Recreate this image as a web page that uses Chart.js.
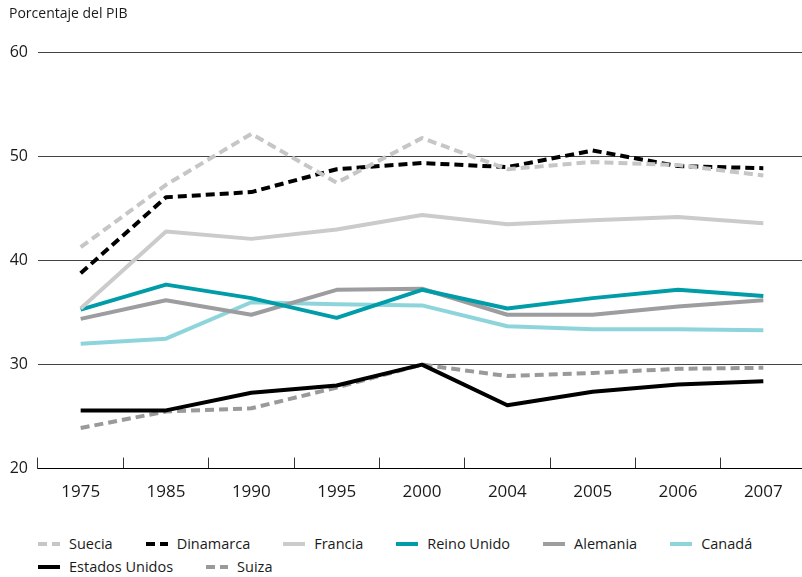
<!DOCTYPE html>
<html lang="es">
<head>
<meta charset="utf-8">
<title>Porcentaje del PIB</title>
<script src="https://cdn.jsdelivr.net/npm/chart.js"></script>
<style>
    body {
        margin: 0;
        background: #fff;
        overflow: hidden;
        font-family: "Open Sans", sans-serif;
        color: #1a1a1a;
    }
    .wrap {
        position: relative;
        width: 802px;
        height: 577px;
        overflow: hidden;
    }
    #chart {
        position: absolute;
        left: 0;
        top: 0;
    }
    /* legend built from the datasets below the canvas */
    .legend {
        position: absolute;
        left: 38px;
        top: 532px;
        width: 760px;
        display: flex;
        flex-wrap: wrap;
        column-gap: 33px;
        font-size: 14.5px;
        line-height: 23px;
    }
    .legend .item {
        display: flex;
        align-items: center;
        white-space: nowrap;
    }
    .legend svg {
        margin-right: 9px;
    }
</style>
</head>
<body>
<div class="wrap">
    <canvas id="chart" width="810" height="530"></canvas>
    <div class="legend" id="legend"></div>
</div>

<script>
// data
const years = ['1975', '1985', '1990', '1995', '2000', '2004', '2005', '2006', '2007'];
const suecia        = [41.3, 47.3, 52.2, 47.5, 51.8, 48.8, 49.5, 49.2, 48.2];
const dinamarca     = [38.8, 46.1, 46.6, 48.8, 49.4, 49.0, 50.6, 49.1, 48.9];
const francia       = [35.4, 42.8, 42.1, 43.0, 44.4, 43.5, 43.9, 44.2, 43.6];
const reinoUnido    = [35.3, 37.7, 36.4, 34.5, 37.2, 35.4, 36.4, 37.2, 36.6];
const alemania      = [34.4, 36.2, 34.8, 37.2, 37.3, 34.8, 34.8, 35.6, 36.2];
const canada        = [32.0, 32.5, 36.0, 35.8, 35.7, 33.7, 33.4, 33.4, 33.3];
const estadosUnidos = [25.6, 25.6, 27.3, 28.0, 30.0, 26.1, 27.4, 28.1, 28.4];
const suiza         = [23.9, 25.5, 25.8, 27.8, 30.0, 28.9, 29.2, 29.6, 29.7];
const yMin = 20, yMax = 60, yStep = 10;

const dash = [9, 5];

function series(label, data, color, dashed) {
    return {
        label: label,
        data: data,
        borderColor: color,
        backgroundColor: color,
        borderWidth: 4,
        borderDash: dashed ? dash : [],
        borderCapStyle: 'butt',
        borderJoinStyle: 'round',
        pointRadius: 0,
        pointHoverRadius: 0,
        tension: 0,
        fill: false
    };
}

const ctx = document.getElementById('chart').getContext('2d');
const chart = new Chart(ctx, {
    type: 'line',
    data: {
        labels: years,
        datasets: [
            series('Suecia', suecia, '#c6c6c8', true),
            series('Dinamarca', dinamarca, '#000000', true),
            series('Francia', francia, '#cbcbcc', false),
            series('Reino Unido', reinoUnido, '#009ca8', false),
            series('Alemania', alemania, '#9d9da0', false),
            series('Canadá', canada, '#8ed5db', false),
            series('Estados Unidos', estadosUnidos, '#000000', false),
            series('Suiza', suiza, '#9a9a9a', true)
        ]
    },
    options: {
        responsive: false,
        animation: false,
        layout: {
            padding: { left: 9, right: 4, top: 4, bottom: 4 }
        },
        plugins: {
            legend: { display: false },
            tooltip: { enabled: false },
            title: {
                display: true,
                text: 'Porcentaje del PIB',
                align: 'start',
                color: '#1a1a1a',
                font: { family: 'Open Sans', size: 14, weight: 'normal' },
                padding: { top: 2, bottom: 30 }
            }
        },
        scales: {
            x: {
                type: 'category',
                offset: true,
                grid: {
                    offset: true,
                    drawOnChartArea: false,
                    drawTicks: true,
                    tickLength: -11,
                    color: '#333'
                },
                border: { display: true, color: '#000', width: 1 },
                ticks: {
                    padding: 24,
                    maxRotation: 0,
                    color: '#1a1a1a',
                    font: { family: 'Open Sans', size: 17 }
                }
            },
            y: {
                min: yMin,
                max: yMax,
                afterFit: function(scale) { scale.width = 29; },
                grid: {
                    drawTicks: false,
                    color: '#444',
                    lineWidth: 1
                },
                border: { display: false },
                ticks: {
                    stepSize: yStep,
                    padding: 10,
                    color: '#1a1a1a',
                    font: { family: 'Open Sans', size: 16 }
                }
            }
        }
    }
});

// legend from the chart's datasets
const legendEl = document.getElementById('legend');
chart.data.datasets.forEach(function(ds) {
    const item = document.createElement('span');
    item.className = 'item';
    const da = ds.borderDash.length ? ds.borderDash.join(' ') : 'none';
    item.innerHTML = '<svg width="22" height="6"><line x1="0" y1="3" x2="22" y2="3" stroke="' +
        ds.borderColor + '" stroke-width="4" stroke-dasharray="' + da + '"/></svg>';
    item.appendChild(document.createTextNode(ds.label));
    legendEl.appendChild(item);
});
</script>
</body>
</html>
